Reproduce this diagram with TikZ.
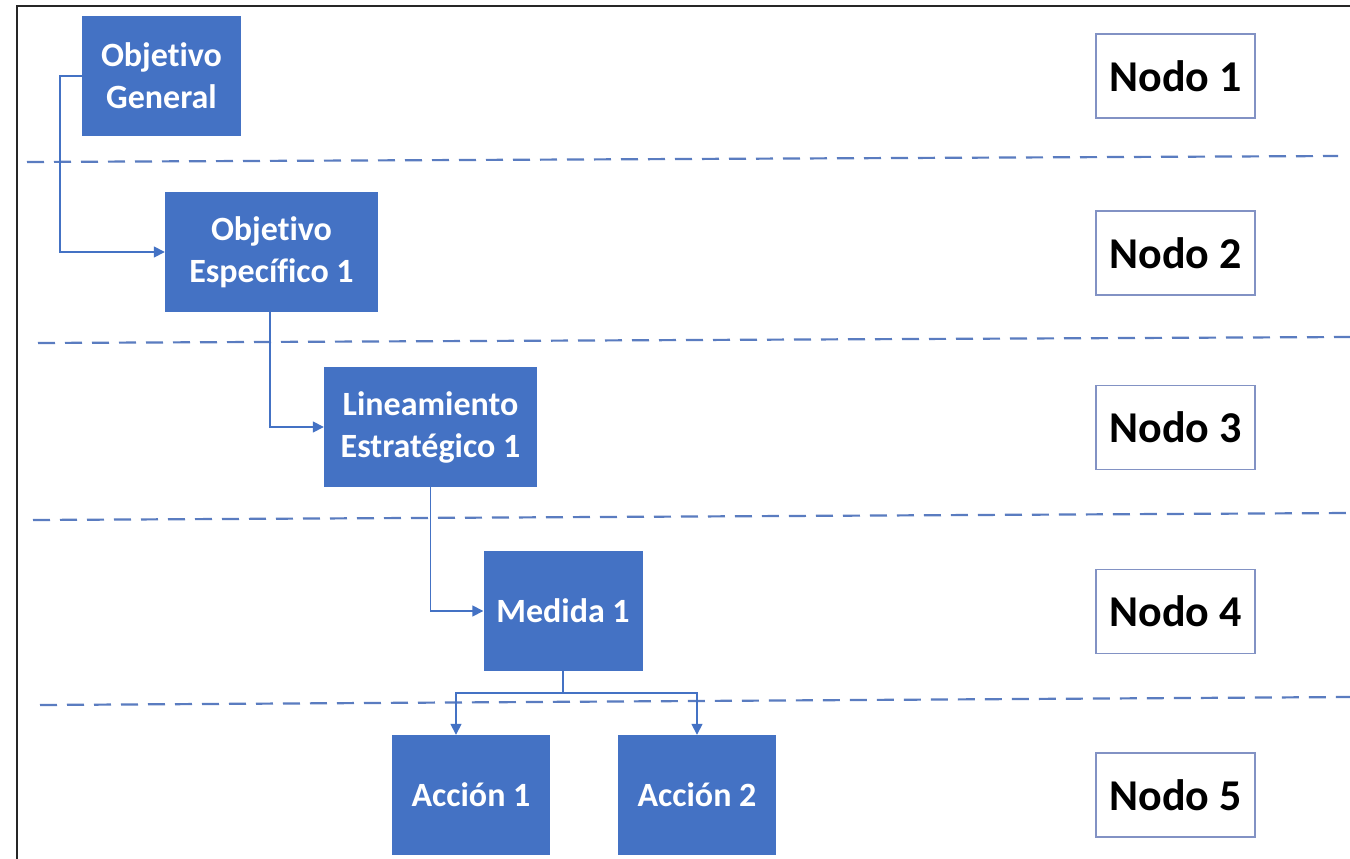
\documentclass[tikz,border=0pt]{standalone}
\usepackage{fontspec}
\setmainfont{Carlito}[Ligatures=NoCommon]
\usetikzlibrary{arrows.meta}
\definecolor{accblue}{HTML}{4472C4}
\definecolor{dashblue}{HTML}{5A7CC0}
\definecolor{nodoedge}{HTML}{8292C4}
\begin{document}
\begin{tikzpicture}[x=1pt,y=-1pt,
  bluebox/.style={fill=accblue,draw=none,text=white,align=center,
    font=\fontsize{34}{42}\selectfont\bfseries,inner sep=0pt},
  nodobox/.style={draw=nodoedge,line width=1.3pt,fill=white,minimum width=159pt,
    minimum height=84pt,font=\fontsize{44}{50}\selectfont\bfseries,inner sep=0pt},
  conn/.style={draw=accblue,line width=1.6pt},
  arr/.style={conn,-{Triangle[length=11pt,width=11pt]}},
  sep/.style={draw=dashblue,line width=2.2pt,dash pattern=on 17pt off 10pt}]
\useasboundingbox (0,0) rectangle (1350,859);
\fill[white] (0,0) rectangle (1350,859);
% frame
\draw[line width=2pt,black!85] (17,859) -- (17,6) -- (1350,6);
% separators
\draw[sep] (27,162) -- (1338,156);
\draw[sep] (38,343) -- (1350,337);
\draw[sep] (33,520) -- (1350,513);
\draw[sep] (40,705) -- (1350,697);
% boxes
\node[bluebox,minimum width=159pt,minimum height=120pt] (og) at (161.5,76) {Objetivo\\General};
\node[bluebox,minimum width=213pt,minimum height=120pt] (oe) at (271.5,252) {Objetivo\\Específico 1};
\node[bluebox,minimum width=213pt,minimum height=120pt] (le) at (430.5,427) {Lineamiento\\Estratégico 1};
\node[bluebox,minimum width=159pt,minimum height=120pt] (me) at (563,611) {Medida 1};
\node[bluebox,minimum width=158pt,minimum height=120pt] (a1) at (471,795) {Acción 1};
\node[bluebox,minimum width=158pt,minimum height=120pt] (a2) at (697,795) {Acción 2};
% nodo labels
\node[nodobox] (n1) at (1175.5,76) {Nodo 1};
\node[nodobox] (n2) at (1175.5,253) {Nodo 2};
\node[nodobox] (n3) at (1175.5,427.5) {Nodo 3};
\node[nodobox] (n4) at (1175.5,611.5) {Nodo 4};
\node[nodobox] (n5) at (1175.5,795) {Nodo 5};
% connectors
\draw[arr] (og.west) -- ++(-22,0) |- (oe.west);
\draw[arr] ([xshift=-1.5pt]oe.south) |- (le.west);
\draw[arr] (le.south) |- (me.west);
\draw[conn] (me.south) -- ++(0,22) coordinate (br);
\draw[arr] (br) -| ([xshift=-15pt]a1.north);
\draw[arr] (br) -| (a2.north);
\end{tikzpicture}
\end{document}
